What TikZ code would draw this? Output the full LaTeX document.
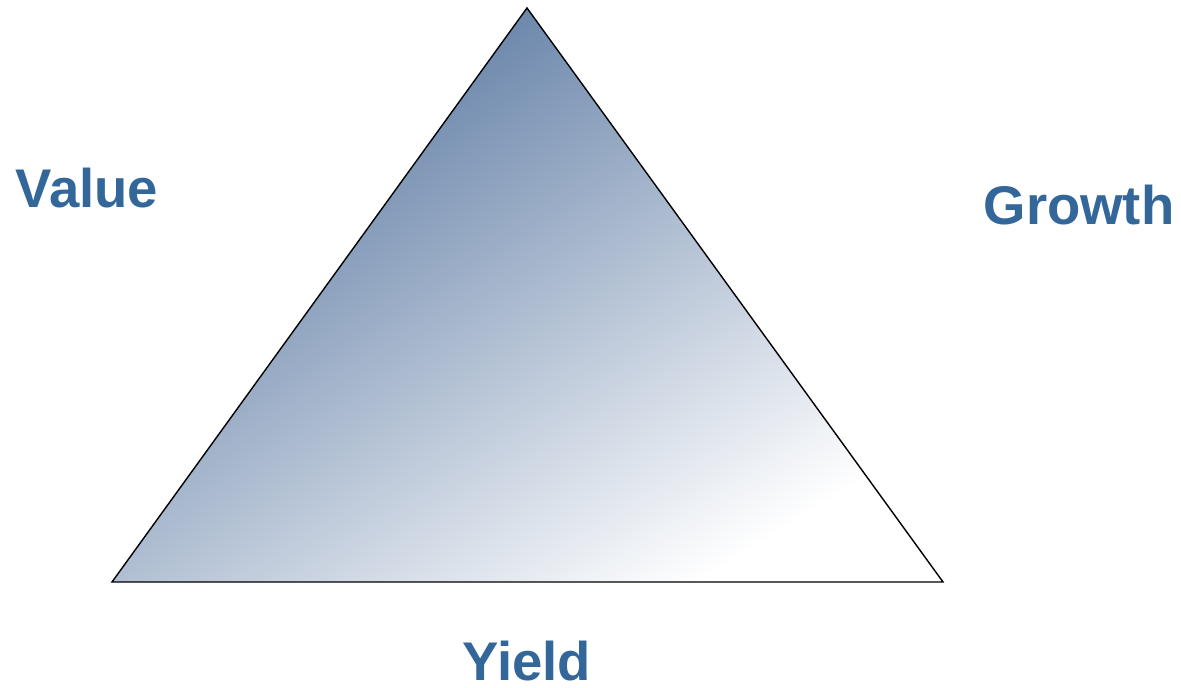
\documentclass[tikz,border=0pt]{standalone}
\usepackage{fontspec}
\setmainfont{Liberation Sans}
\usetikzlibrary{positioning}
\definecolor{styleblue}{HTML}{336699}
\definecolor{shadeblue}{HTML}{56759F}

\begin{document}
\begin{tikzpicture}[
  label/.style={
    text=styleblue,
    font=\fontsize{31}{36}\selectfont\bfseries
  },
  edge/.style={draw=black,line width=0.8pt,line join=miter}
]
  \useasboundingbox (0,0) rectangle (23.62,13.74);
  \coordinate (apex) at (10.54,13.58);
  \coordinate (left) at (2.24,2.10);
  \coordinate (right) at (18.86,2.10);

  \shade[top color=shadeblue,bottom color=white,shading angle=32]
    (apex) -- (left) -- (right) -- cycle;
  \draw[edge] (apex) -- (left) -- (right) -- cycle;

  \node[label] (value) at (1.74,9.98) {Value};
  \node[label] (growth) at (21.58,9.64) {Growth};
  \node[label] (yield) at (10.54,0.52) {Yield};
\end{tikzpicture}
\end{document}
